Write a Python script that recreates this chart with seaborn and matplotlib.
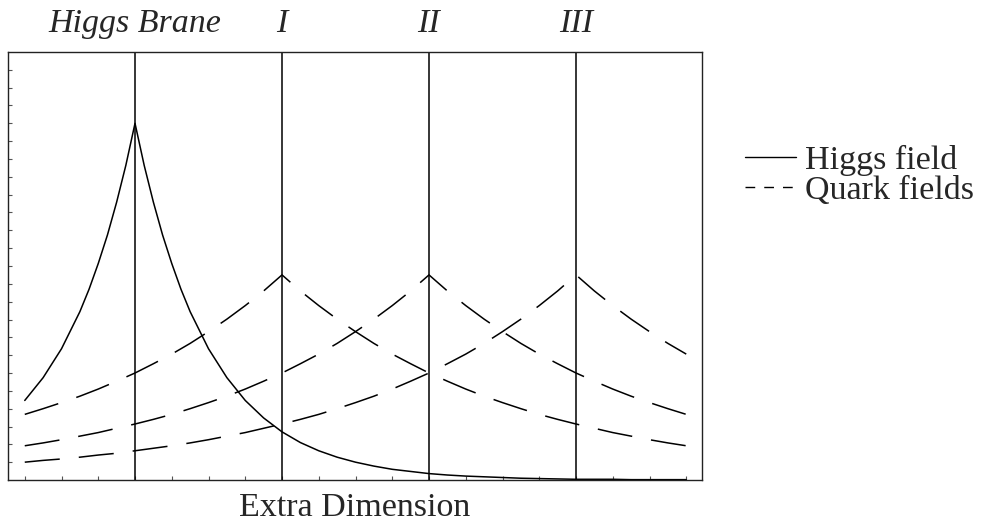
import numpy as np
import pandas as pd
import matplotlib
matplotlib.use("Agg")
from matplotlib import pyplot as plt
from matplotlib.lines import Line2D
import seaborn as sns

sns.set_style("white")
plt.rcParams['font.family'] = ['Liberation Serif', 'DejaVu Serif']

# positions along the extra dimension (branes sit at 0, 1, 2, 3)
x_pos = np.linspace(-0.75, 3.75, 37)

# higgs profile, sampled a bit finer near the peak
x_higgs = [-0.75, -0.625, -0.5, -0.375, -0.3125, -0.25, -0.1875, -0.125, -0.0625, 0.0,
           0.0625, 0.125, 0.1875, 0.25, 0.3125, 0.375, 0.5, 0.625, 0.75, 0.875,
           1.0, 1.125, 1.25, 1.375, 1.5, 1.625, 1.75, 1.875, 2.0, 2.125,
           2.25, 2.375, 2.5, 2.625, 2.75, 2.875, 3.0, 3.125, 3.25, 3.375,
           3.5, 3.625, 3.75]
higgs = [0.223, 0.287, 0.368, 0.472, 0.535, 0.607, 0.687, 0.779, 0.882, 1.000,
         0.882, 0.779, 0.687, 0.607, 0.535, 0.472, 0.368, 0.287, 0.223, 0.174,
         0.135, 0.105, 0.082, 0.064, 0.050, 0.039, 0.030, 0.024, 0.018, 0.014,
         0.011, 0.009, 0.007, 0.005, 0.004, 0.003, 0.002, 0.002, 0.002, 0.001,
         0.001, 0.001, 0.001]
quark_1 = [0.184, 0.200, 0.217, 0.235, 0.255, 0.277, 0.300, 0.326, 0.353, 0.383,
           0.416, 0.451, 0.489, 0.530, 0.575, 0.530, 0.489, 0.451, 0.416, 0.383,
           0.353, 0.326, 0.300, 0.277, 0.255, 0.235, 0.217, 0.200, 0.184, 0.170,
           0.157, 0.145, 0.133, 0.123, 0.113, 0.104, 0.096]
quark_2 = [0.096, 0.104, 0.113, 0.123, 0.133, 0.145, 0.157, 0.170, 0.184, 0.200,
           0.217, 0.235, 0.255, 0.277, 0.300, 0.326, 0.353, 0.383, 0.416, 0.451,
           0.489, 0.530, 0.575, 0.530, 0.489, 0.451, 0.416, 0.383, 0.353, 0.326,
           0.300, 0.277, 0.255, 0.235, 0.217, 0.200, 0.184]
quark_3 = [0.050, 0.055, 0.059, 0.064, 0.070, 0.075, 0.082, 0.089, 0.096, 0.104,
           0.113, 0.123, 0.133, 0.145, 0.157, 0.170, 0.184, 0.200, 0.217, 0.235,
           0.255, 0.277, 0.300, 0.326, 0.353, 0.383, 0.416, 0.451, 0.489, 0.530,
           0.575, 0.530, 0.489, 0.451, 0.416, 0.383, 0.353]

brane_pos = [0, 1, 2, 3]
brane_labels = ['Higgs Brane', 'I', 'II', 'III']
legend_labels = ['Higgs field', 'Quark fields']
x_label = 'Extra Dimension'

fs = 24.5
lw = 1.1

fig = plt.figure(figsize=(9.82, 5.23), dpi=100)
ax = fig.add_axes([0.00815, 0.0822, 0.7067, 0.8184])

sns.lineplot(x=x_higgs, y=higgs, ax=ax, color='black', lw=lw, estimator=None, sort=False)
for q in [quark_1, quark_2, quark_3]:
    sns.lineplot(x=x_pos, y=q, ax=ax, color='black', lw=lw, estimator=None, sort=False,
                 linestyle=(0, (23, 12.5)))

for p, lab in zip(brane_pos, brane_labels):
    ax.axvline(p, color='black', lw=1.1)
    ax.text(p, 1.047, lab, transform=ax.get_xaxis_transform(), ha='center',
            va='baseline', fontsize=fs, style='italic')

ax.set_xlim(-0.864, 3.857)
ax.set_ylim(0, 1.2)
ax.set_xticks(np.arange(-0.75, 3.76, 0.25))
ax.set_yticks(np.arange(0.05, 1.16, 0.05))
ax.tick_params(direction='in', length=3, width=0.8, color='#555555',
               labelbottom=False, labelleft=False, bottom=True, left=True)
for s in ax.spines.values():
    s.set_color('#222222')
    s.set_linewidth(1.0)

ax.text(0.5, -0.083, x_label, transform=ax.transAxes, ha='center', va='baseline', fontsize=fs)

handles = [Line2D([], [], color='black', lw=1.0),
           Line2D([], [], color='black', lw=1.0, linestyle=(0, (7.0, 6.5)))]
fig.legend(handles, legend_labels, loc='center left', bbox_to_anchor=(0.7587, 0.665),
           frameon=False, fontsize=fs, handlelength=1.5, handletextpad=0.27,
           labelspacing=-0.03, borderpad=0, borderaxespad=0)

fig.savefig('out.png', dpi=100)
